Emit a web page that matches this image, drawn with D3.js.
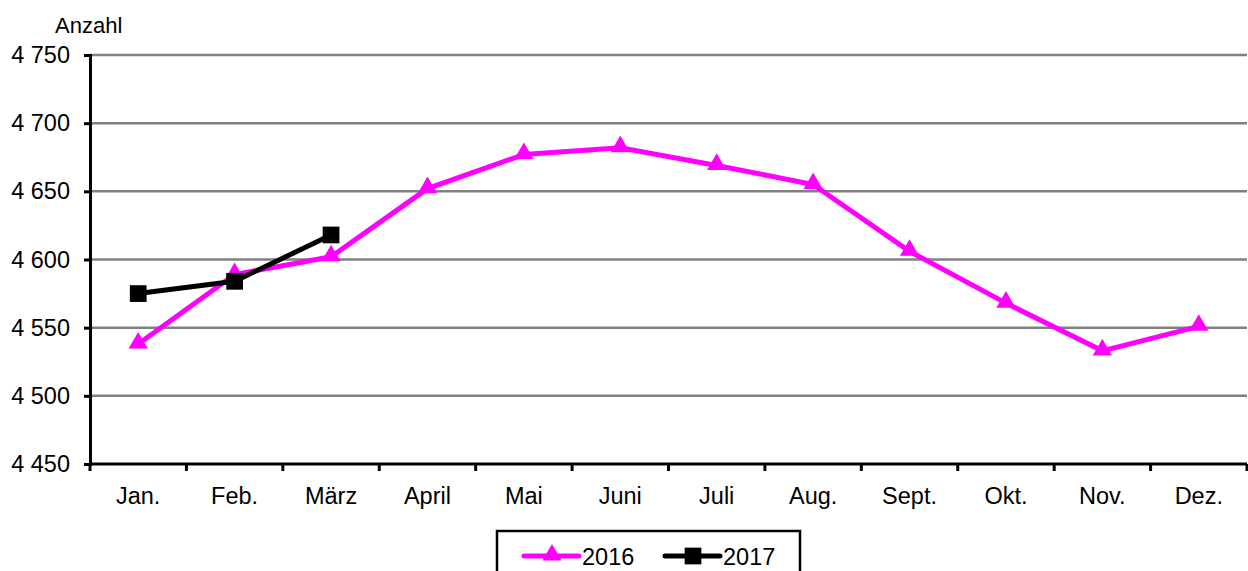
<!DOCTYPE html>
<html>
<head>
<meta charset="utf-8">
<script src="https://cdn.jsdelivr.net/npm/d3@7"></script>
<style>
  body { margin: 0; background: #fff; }
  svg { display: block; font-family: "Liberation Sans", Arial, sans-serif; }
</style>
</head>
<body>
<div id="chart"></div>
<script>
var months = ['Jan.', 'Feb.', 'März', 'April', 'Mai', 'Juni', 'Juli', 'Aug.', 'Sept.', 'Okt.', 'Nov.', 'Dez.'];
var values2016 = [4538, 4589, 4602, 4652, 4677, 4682, 4669, 4655, 4606, 4568, 4533, 4551];
var values2017 = [4575, 4584, 4618];
var yTicks = [4450, 4500, 4550, 4600, 4650, 4700, 4750];

var W = 1248, H = 571;
var margin = {top: 55, right: 1, bottom: 107, left: 90};
var width = W - margin.left - margin.right,
    height = H - margin.top - margin.bottom;

var svg = d3.select('#chart').append('svg')
    .attr('width', W)
    .attr('height', H);

var x = d3.scaleBand()
    .domain(months)
    .range([0, width]);

var y = d3.scaleLinear()
    .domain([4450, 4750])
    .range([height, 0]);

var fmt = function(v) { return d3.format(',')(v).replace(',', ' '); };

var g = svg.append('g')
    .attr('transform', 'translate(' + margin.left + ',' + margin.top + ')');

// grid
g.selectAll('.grid')
    .data(yTicks.slice(1))
    .enter().append('line')
    .attr('x1', 0).attr('x2', width)
    .attr('y1', d => y(d)).attr('y2', d => y(d))
    .attr('stroke', '#808080')
    .attr('stroke-width', 2.5);

// y axis
var yAxis = g.append('g')
    .call(d3.axisLeft(y).tickValues(yTicks).tickFormat(fmt).tickSize(6).tickPadding(14));
yAxis.select('.domain').attr('stroke', '#000').attr('stroke-width', 3);
yAxis.selectAll('.tick line').attr('stroke', '#000').attr('stroke-width', 3);
yAxis.selectAll('text').attr('font-size', 23.5).attr('fill', '#000')
    .attr('font-family', '"Liberation Sans", Arial, sans-serif');

// x axis with ticks at band boundaries
var xAxis = g.append('g')
    .attr('transform', 'translate(0,' + height + ')');
xAxis.append('line')
    .attr('x1', 0).attr('x2', width)
    .attr('stroke', '#000').attr('stroke-width', 3);
var bounds = months.map(m => x(m)).concat([width]);
xAxis.selectAll('.xt')
    .data(bounds)
    .enter().append('line')
    .attr('x1', d => d).attr('x2', d => d)
    .attr('y1', 0).attr('y2', 7)
    .attr('stroke', '#000').attr('stroke-width', 3);
xAxis.selectAll('.xl')
    .data(months)
    .enter().append('text')
    .attr('x', d => x(d) + x.bandwidth() / 2)
    .attr('y', 40)
    .attr('text-anchor', 'middle')
    .attr('font-size', 23.5)
    .text(d => d);

svg.append('text')
    .attr('x', 55).attr('y', 33)
    .attr('font-size', 22)
    .text('Anzahl');

var line = d3.line()
    .x((d, i) => x(months[i]) + x.bandwidth() / 2)
    .y(d => y(d));

var tri = d3.symbol().type(d3.symbolTriangle).size(160);
var sq = d3.symbol().type(d3.symbolSquare).size(280);

g.append('path')
    .datum(values2016)
    .attr('d', line)
    .attr('fill', 'none')
    .attr('stroke', '#ff00ff')
    .attr('stroke-width', 5);
g.selectAll('.m16')
    .data(values2016)
    .enter().append('path')
    .attr('d', tri)
    .attr('fill', '#ff00ff')
    .attr('transform', (d, i) => 'translate(' + (x(months[i]) + x.bandwidth() / 2) + ',' + (y(d) - 1) + ')');

g.append('path')
    .datum(values2017)
    .attr('d', line)
    .attr('fill', 'none')
    .attr('stroke', '#000')
    .attr('stroke-width', 5);
g.selectAll('.m17')
    .data(values2017)
    .enter().append('path')
    .attr('d', sq)
    .attr('fill', '#000')
    .attr('transform', (d, i) => 'translate(' + (x(months[i]) + x.bandwidth() / 2) + ',' + y(d) + ')');

// legend
var leg = svg.append('g').attr('transform', 'translate(497,531)');
leg.append('rect')
    .attr('width', 303).attr('height', 60)
    .attr('fill', '#fff').attr('stroke', '#000').attr('stroke-width', 2.5);
var items = [
    {name: '2016', color: '#ff00ff', sym: tri, x: 27},
    {name: '2017', color: '#000', sym: sq, x: 168}
];
items.forEach(function(it) {
    var li = leg.append('g').attr('transform', 'translate(' + it.x + ',25)');
    li.append('line').attr('x1', 0).attr('x2', 55)
        .attr('stroke', it.color).attr('stroke-width', 5).attr('stroke-linecap', 'round');
    li.append('path').attr('d', it.sym).attr('fill', it.color)
        .attr('transform', 'translate(28,' + (it.name === '2016' ? -1 : 0) + ')');
    li.append('text').attr('x', 58).attr('y', 9)
        .attr('font-size', 23.5).text(it.name);
});
</script>
</body>
</html>
